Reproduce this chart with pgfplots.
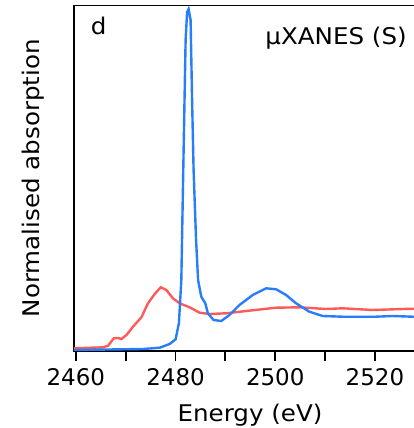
\documentclass[border=0pt]{standalone}
\usepackage{fontspec}
\setmainfont{DejaVu Sans}
\newfontfamily\vfont[FakeStretch=1.07]{DejaVu Sans}
\usepackage{pgfplots}
\pgfplotsset{compat=1.18}
\definecolor{cblue}{RGB}{40,125,250}
\definecolor{cred}{RGB}{255,90,90}
\begin{document}
\begin{tikzpicture}
\begin{axis}[
  width=175.8pt, height=172.75pt, scale only axis,
  xmin=2459.6, xmax=2530, ymin=0, ymax=3.455,
  axis line style={line width=0.9pt},
  ytick=\empty,
  xtick={2460,2470,...,2530},
  xticklabels={2460,,2480,,2500,,2520,},
  xtick pos=bottom, tick align=outside,
  major tick length=5pt,
  every tick/.style={black, line width=0.9pt},
  tick label style={font=\fontsize{11.5}{13}\selectfont},
  /pgf/number format/assume math mode=true,
  xlabel={Energy (eV)}, ylabel={Normalised absorption},
  label style={font=\vfont\fontsize{11.5}{13}\selectfont},
  xlabel style={at={(axis description cs:0.502,-0.2046)}, anchor=base, inner sep=0pt},
  ylabel style={at={(axis description cs:-0.0825,0.5)}, anchor=south, inner sep=0pt},
]
\addplot[cred, line width=1.2pt] coordinates {
(2459.6,0.027) (2465.47,0.037) (2466.47,0.053) (2467.61,0.127) (2468.47,0.13)
(2469.15,0.12) (2470.15,0.16) (2471.47,0.243) (2473.15,0.337) (2474.47,0.477)
(2475.82,0.57) (2477.02,0.637) (2478.16,0.61) (2479.48,0.527) (2480.82,0.477)
(2482.82,0.437) (2484.82,0.383) (2486.83,0.37) (2490.17,0.377) (2494.17,0.40)
(2500.18,0.433) (2504.84,0.437) (2510.19,0.42) (2513.51,0.427) (2519.52,0.41)
(2527.53,0.423) (2530,0.42)
};
\addplot[cblue, line width=1.2pt] coordinates {
(2459.6,0.01) (2473.47,0.02) (2476.82,0.033) (2478.82,0.07) (2480.02,0.117)
(2480.68,0.28) (2481.16,0.71) (2481.62,2.01) (2482.02,3.11) (2482.32,3.39)
(2482.62,3.42) (2483.02,3.31) (2483.32,2.51) (2483.62,1.81) (2484.12,1.11)
(2484.52,0.71) (2485.16,0.543) (2485.97,0.477) (2486.49,0.377) (2487.63,0.31)
(2489.17,0.30) (2490.83,0.36) (2492.83,0.46) (2495.5,0.56) (2498.18,0.627)
(2500.18,0.617) (2502.18,0.56) (2504.18,0.477) (2506.85,0.393) (2509.51,0.35)
(2513.51,0.343) (2520.2,0.343) (2523.52,0.35) (2527.53,0.343) (2530,0.343)
};
\node[anchor=base west, inner sep=0pt, font=\vfont\fontsize{11.5}{13}\selectfont] at (axis cs:2462.95,3.16) {d};
\node[anchor=base east, inner sep=0pt, font=\vfont\fontsize{11.5}{13}\selectfont] at (axis cs:2526.47,3.06) {μXANES (S)};
\coordinate (bbsw) at (axis cs:2444.78,-0.77);
\coordinate (bbne) at (axis cs:2527.67,3.51);
\end{axis}
\pgfresetboundingbox
\useasboundingbox (bbsw) rectangle (bbne);
\end{tikzpicture}
\end{document}
